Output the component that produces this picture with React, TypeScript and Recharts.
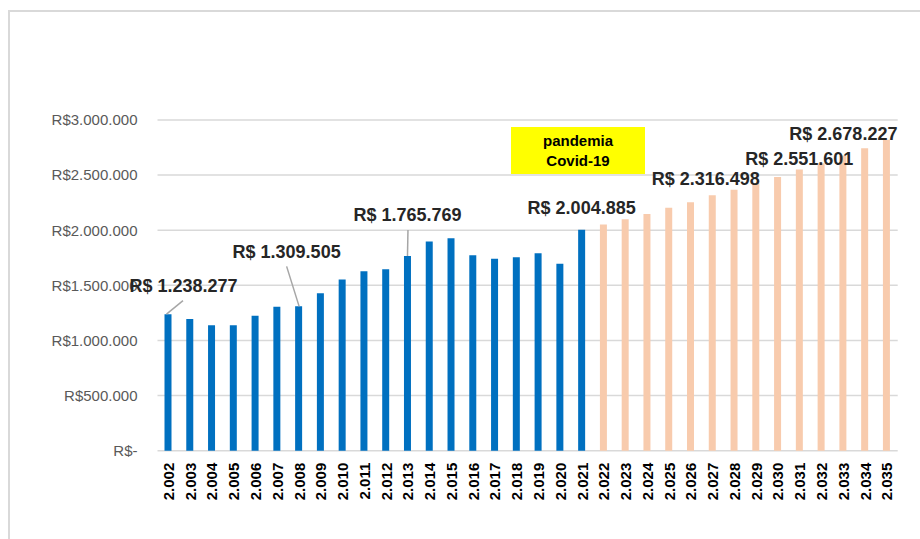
import React from "react";
import { BarChart, Bar, XAxis, YAxis, CartesianGrid, Cell, LabelList } from "recharts";

// tick labels (years written with a thousands dot, as in the source sheet)
const YEARS = [
  "2.002", "2.003", "2.004", "2.005", "2.006", "2.007", "2.008", "2.009", "2.010", "2.011",
  "2.012", "2.013", "2.014", "2.015", "2.016", "2.017", "2.018", "2.019", "2.020", "2.021",
  "2.022", "2.023", "2.024", "2.025", "2.026", "2.027", "2.028", "2.029", "2.030", "2.031",
  "2.032", "2.033", "2.034", "2.035",
];

// 2002-2021 realized
const REALIZED = [
  1238277, 1195000, 1138000, 1138000, 1225000, 1305000, 1309505, 1428000, 1552000, 1628000,
  1646000, 1765769, 1897000, 1927000, 1773000, 1742000, 1755000, 1791000, 1697000, 2004885,
];

// 2022-2035 projected
const PROJECTED = [
  2051000, 2100000, 2148000, 2205000, 2254000, 2316498, 2368000, 2426000, 2484000, 2551601,
  2608000, 2678227, 2744000, 2820000,
];

const Y_TICKS = [0, 500000, 1000000, 1500000, 2000000, 2500000, 3000000];

const LABELED_YEARS = ["2.002", "2.008", "2.013", "2.021", "2.027", "2.031", "2.033"];

// label placement relative to bar centre / bar top (moved by hand in the original)
const LABEL_LAYOUT: Record<string, { dx: number; dy: number; line?: number[] }> = {
  "2.002": { dx: 15.5, dy: -28, line: [15, -13.5, -1.5, 0] },
  "2.008": { dx: -12, dy: -54.5, line: [-12, -40, 0.5, 0] },
  "2.013": { dx: 0, dy: -41, line: [0.5, -26, 0, 0] },
  "2.021": { dx: 0, dy: -21.5 },
  "2.027": { dx: -6.5, dy: -16.5 },
  "2.031": { dx: 0, dy: -10.5 },
  "2.033": { dx: 0.5, dy: -21.5 },
};

const BLUE = "#0070C0";
const PEACH = "#F8CBAD";
const GRID = "#D9D9D9";

const VALUES = [...REALIZED, ...PROJECTED];
const data = YEARS.map((year, i) => ({ year, value: VALUES[i] }));

const dots = (n: number) => String(Math.round(n)).replace(/\B(?=(\d{3})+(?!\d))/g, ".");
const money = (n: number) => (n === 0 ? "R$-" : `R$${dots(n)}`);

function YearTick(props: any) {
  const { x, y, payload } = props;
  return (
    <g transform={`translate(${x},${y})`}>
      <text
        transform="rotate(-90)"
        x={-12}
        y={0}
        textAnchor="end"
        dominantBaseline="central"
        fontWeight="bold"
        fontSize={15}
        fill="#000"
      >
        {payload.value}
      </text>
    </g>
  );
}

function ValueLabel(props: any) {
  const { x, y, width, value } = props;
  if (!LABELED_YEARS.includes(value)) return null;
  const layout = LABEL_LAYOUT[value];
  const idx = YEARS.indexOf(value);
  const cx = Number(x) + Number(width) / 2;
  const top = Number(y);
  return (
    <g>
      {layout.line && (
        <line
          x1={cx + layout.line[0]}
          y1={top + layout.line[1]}
          x2={cx + layout.line[2]}
          y2={top + layout.line[3]}
          stroke="#A6A6A6"
          strokeWidth={1.5}
        />
      )}
      <text
        x={cx + layout.dx}
        y={top + layout.dy}
        textAnchor="middle"
        dominantBaseline="central"
        fontWeight="bold"
        fontSize={18}
        fill="#262626"
      >
        {`R$ ${dots(VALUES[idx])}`}
      </text>
    </g>
  );
}

export default function App() {
  return (
    <div
      style={{
        position: "relative",
        width: 920,
        height: 539,
        overflow: "hidden",
        fontFamily: "'Liberation Sans', Arial, sans-serif",
      }}
    >
      <style>{`body { margin: 0; }`}</style>
      <div
        style={{
          position: "absolute",
          left: 8,
          top: 10,
          width: 950,
          height: 600,
          borderTop: `2px solid ${GRID}`,
          borderLeft: `2px solid ${GRID}`,
          boxSizing: "border-box",
        }}
      />
      <div style={{ position: "absolute", left: 8, top: 10 }}>
        <BarChart
          width={904}
          height={521}
          data={data}
          margin={{ top: 110, right: 14.3, left: 0, bottom: 0 }}
        >
          <CartesianGrid horizontal vertical={false} stroke={GRID} strokeWidth={1.5} />
          <XAxis
            dataKey="year"
            interval={0}
            height={80.3}
            tickLine={false}
            axisLine={false}
            tickSize={0}
            tickMargin={0}
            tick={<YearTick />}
          />
          <YAxis
            domain={[0, 3000000]}
            ticks={Y_TICKS}
            width={149.5}
            tickLine={false}
            axisLine={false}
            tickSize={0}
            tickMargin={20}
            tickFormatter={money}
            tick={{ fontSize: 15, fill: "#595959" }}
          />
          <Bar dataKey="value" barSize={7} isAnimationActive={false}>
            {data.map((d, i) => (
              <Cell key={d.year} fill={i < REALIZED.length ? BLUE : PEACH} />
            ))}
            <LabelList dataKey="year" content={<ValueLabel />} />
          </Bar>
        </BarChart>
      </div>
      <div
        style={{
          position: "absolute",
          left: 511,
          top: 127,
          width: 134,
          height: 47,
          background: "#FFFF00",
          fontWeight: "bold",
          fontSize: 15,
          lineHeight: "20px",
          textAlign: "center",
          paddingTop: 4,
          boxSizing: "border-box",
          color: "#000",
        }}
      >
        pandemia
        <br />
        Covid-19
      </div>
    </div>
  );
}
